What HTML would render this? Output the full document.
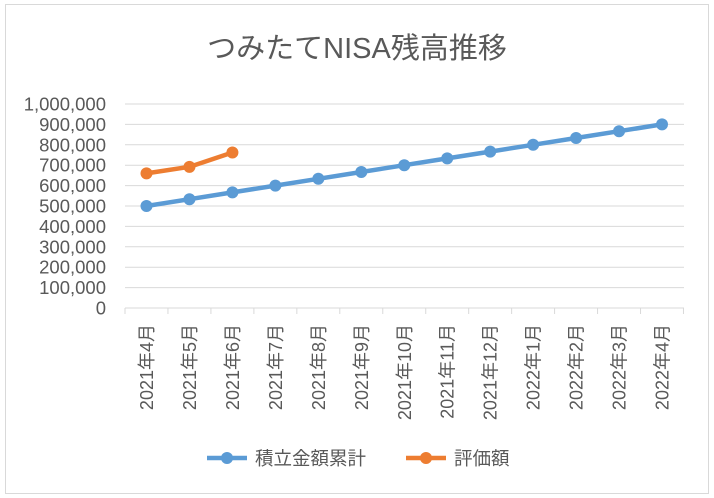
<!DOCTYPE html>
<html><head><meta charset="utf-8"><style>body{margin:0;background:#fff}svg{display:block}text{font-family:"Liberation Sans","Noto Sans CJK JP",sans-serif;fill:#595959}</style></head><body>
<svg width="714" height="498" xmlns="http://www.w3.org/2000/svg">
<rect x="5.5" y="4.5" width="703" height="489" fill="#fff" stroke="#d9d9d9"/>
<text x="357" y="58" font-size="29" text-anchor="middle">つみたてNISA残高推移</text>
<g stroke="#d9d9d9" stroke-width="1">
<line x1="125" x2="684" y1="104" y2="104"/><line x1="125" x2="684" y1="124.4" y2="124.4"/><line x1="125" x2="684" y1="144.8" y2="144.8"/><line x1="125" x2="684" y1="165.2" y2="165.2"/><line x1="125" x2="684" y1="185.6" y2="185.6"/><line x1="125" x2="684" y1="206" y2="206"/><line x1="125" x2="684" y1="226.4" y2="226.4"/><line x1="125" x2="684" y1="246.8" y2="246.8"/><line x1="125" x2="684" y1="267.2" y2="267.2"/><line x1="125" x2="684" y1="287.6" y2="287.6"/><line x1="125" x2="684" y1="308" y2="308"/>
</g>
<g stroke="#d9d9d9" id="ticks"></g>
<g font-size="18.5" text-anchor="end" id="yl"></g>
<g font-size="18" id="xl"></g>
<polyline id="b" fill="none" stroke="#5b9bd5" stroke-width="4.5" stroke-linejoin="round"/>
<polyline id="o" fill="none" stroke="#ed7d31" stroke-width="4.5" stroke-linejoin="round"/>
<g id="pts"></g>
<line x1="207" x2="247" y1="458" y2="458" stroke="#5b9bd5" stroke-width="4.5"/><circle cx="227" cy="458" r="6" fill="#5b9bd5"/>
<text x="255" y="465" font-size="18.5">積立金額累計</text>
<line x1="406" x2="446" y1="458" y2="458" stroke="#ed7d31" stroke-width="4.5"/><circle cx="426" cy="458" r="6" fill="#ed7d31"/>
<text x="454" y="465" font-size="18.5">評価額</text>
</svg>
<script>
const ns="http://www.w3.org/2000/svg";
function el(p,t,a,txt){const e=document.createElementNS(ns,t);for(const k in a)e.setAttribute(k,a[k]);if(txt)e.textContent=txt;document.getElementById(p).appendChild(e);return e;}
const Y=v=>308-v*0.000204, X=i=>146.5+i*42.96;
for(let i=0;i<=10;i++)el("yl","text",{x:106,y:Y(i*100000)+6.5},i?(i*100000).toLocaleString("en-US"):"0");
for(let i=0;i<=13;i++)el("ticks","line",{x1:125+i*42.96,x2:125+i*42.96,y1:308,y2:314});
const labs=["2021年4月","2021年5月","2021年6月","2021年7月","2021年8月","2021年9月","2021年10月","2021年11月","2021年12月","2022年1月","2022年2月","2022年3月","2022年4月"];
labs.forEach((l,i)=>el("xl","text",{x:0,y:0,transform:`translate(${X(i)+6.5},324) rotate(-90)`,"text-anchor":"end"},l));
const o=[660000,692000,762000];let bp="",op="";
for(let i=0;i<13;i++){const v=500000+i*400000/12;bp+=X(i)+","+Y(v)+" ";el("pts","circle",{cx:X(i),cy:Y(v),r:6,fill:"#5b9bd5"});}
o.forEach((v,i)=>{op+=X(i)+","+Y(v)+" ";el("pts","circle",{cx:X(i),cy:Y(v),r:6,fill:"#ed7d31"});});
document.getElementById("b").setAttribute("points",bp);document.getElementById("o").setAttribute("points",op);
</script>
</body></html>
